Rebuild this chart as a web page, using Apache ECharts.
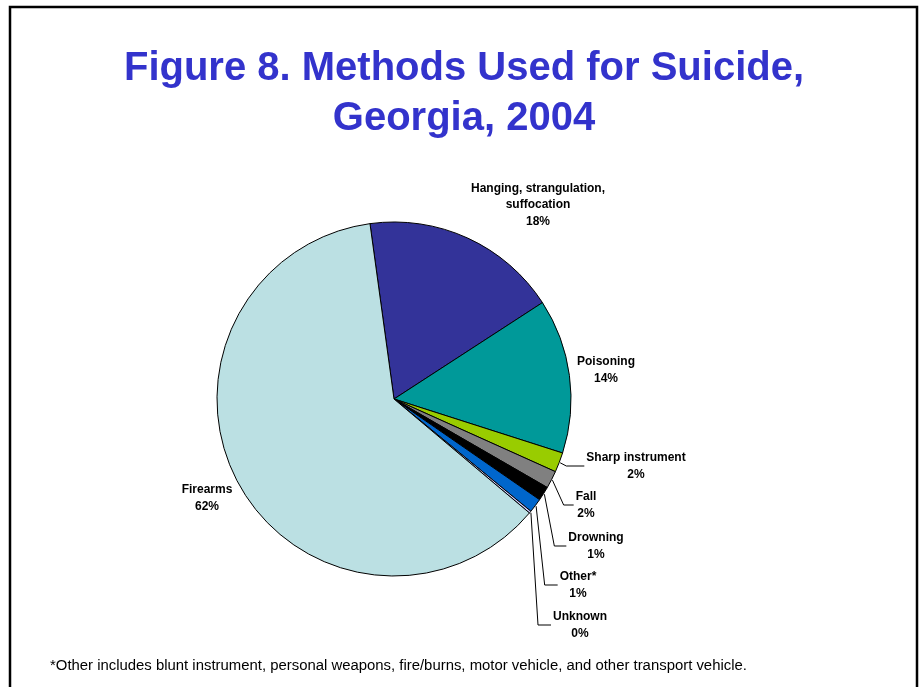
<!DOCTYPE html>
<html>
<head>
<meta charset="utf-8">
<script src="https://cdn.jsdelivr.net/npm/echarts@6/dist/echarts.min.js"></script>
<style>
  html, body { margin: 0; padding: 0; background: #fff; }
  #chart { width: 922px; height: 687px; }
</style>
</head>
<body>
<div id="chart"></div>
<script>
// ---- data ----
const categories = [
  'Hanging, strangulation,\nsuffocation',
  'Poisoning',
  'Sharp instrument',
  'Fall',
  'Drowning',
  'Other*',
  'Unknown',
  'Firearms'
];
const percentValues = [18.0, 14.1, 1.8, 1.6, 1.3, 1.3, 0.2, 61.7];
const sliceColors = ['#333399', '#009999', '#99CC00', '#808080', '#000000', '#0066CC', '#CCCCFF', '#BBE0E3'];
const titleLines = ['Figure 8. Methods Used for Suicide,', 'Georgia, 2004'];
const footnote = '*Other includes blunt instrument, personal weapons, fire/burns, motor vehicle, and other transport vehicle.';

// ---- layout (positions only) ----
const CX = 394, CY = 399, R = 177, START = 97.8;
const labelPos = [
  [538, 205], [606, 370], [636, 466], [586, 505],
  [596, 546], [578, 585], [580, 625], [207, 498]
];
const showLine = [false, false, true, true, true, true, true, false];
const lineGap = [0, 0, 18, 10, 12, 13, 13, 0];

const FONT = '"Liberation Sans", Arial, Helvetica, sans-serif';
const chart = echarts.init(document.getElementById('chart'), null, { renderer: 'canvas' });

const total = percentValues.reduce((a, b) => a + b, 0);
// mid-angle of each slice (degrees clockwise from 12 o'clock), derived from the data
const midAngles = [];
(function () {
  let acc = 90 - START;
  percentValues.forEach(v => {
    const span = v / total * 360;
    midAngles.push(acc + span / 2);
    acc += span;
  });
})();

const seriesData = categories.map((name, i) => ({
  name: name,
  value: percentValues[i],
  itemStyle: { color: sliceColors[i] },
  labelLine: { show: showLine[i] }
}));

chart.setOption({
  animation: false,
  backgroundColor: '#ffffff',
  graphic: [
    {
      type: 'rect', silent: true,
      shape: { x: 10, y: 7, width: 907, height: 720 },
      style: { fill: 'none', stroke: '#000', lineWidth: 2.5 }
    },
    {
      type: 'text', silent: true,
      style: { text: titleLines[0], x: 464, y: 69, align: 'center', verticalAlign: 'middle',
               font: 'bold 40px ' + FONT, fill: '#3333CC' }
    },
    {
      type: 'text', silent: true,
      style: { text: titleLines[1], x: 464, y: 119, align: 'center', verticalAlign: 'middle',
               font: 'bold 40px ' + FONT, fill: '#3333CC' }
    },
    {
      type: 'text', silent: true,
      style: { text: footnote, x: 50, y: 666, align: 'left', verticalAlign: 'middle',
               font: '14.9px ' + FONT, fill: '#000' }
    }
  ],
  series: [{
    type: 'pie',
    center: [CX, CY],
    radius: R,
    startAngle: START,
    clockwise: true,
    avoidLabelOverlap: false,
    itemStyle: { borderColor: '#000', borderWidth: 1 },
    emphasis: { disabled: true },
    label: {
      show: true,
      position: 'outside',
      color: '#000',
      fontFamily: FONT,
      fontWeight: 'bold',
      fontSize: 12,
      lineHeight: 16.5,
      align: 'center',
      formatter: p => p.name + '\n' + Math.round(p.percent) + '%'
    },
    labelLine: {
      length: 10,
      length2: 10,
      lineStyle: { color: '#000', width: 1 }
    },
    labelLayout: function (params) {
      const i = params.dataIndex;
      const pos = labelPos[i];
      const out = { x: pos[0], y: pos[1], align: 'center', verticalAlign: 'middle' };
      if (showLine[i]) {
        const a = midAngles[i] * Math.PI / 180;
        const sx = CX + (R + 1) * Math.sin(a);
        const sy = CY - (R + 1) * Math.cos(a);
        const left = pos[0] - params.labelRect.width / 2 - 2;
        out.labelLinePoints = [[sx, sy], [left - lineGap[i], pos[1]], [left, pos[1]]];
      }
      return out;
    },
    data: seriesData
  }]
});
</script>
</body>
</html>
